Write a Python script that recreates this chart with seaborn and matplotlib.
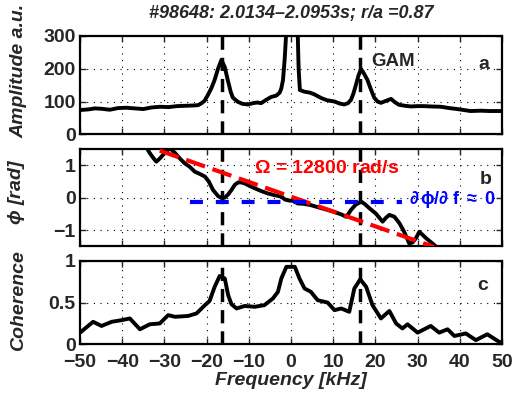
import numpy as np
import matplotlib
matplotlib.use('Agg')
import matplotlib.pyplot as plt
import seaborn as sns

# panel a: amplitude spectrum
freq_amp = [-50, -48, -46.5, -45, -43, -42.5, -41, -39, -37, -35, -33, -31, -29, -27, -25, -23, -22,
            -21.2, -20.5, -19.7, -18.9, -18.1, -17.3, -16.5, -15.7, -15, -14.3, -13.8, -12.6, -11.5,
            -10.2, -9, -8, -7.1, -5.9, -4.7, -3.5, -2.7, -2.3, -1.9, -1.5, -1.1, -0.5, 0.5, 1.5, 1.8,
            2.1, 3.2, 4.5, 5.5, 7.1, 8.5, 10.3, 11.5, 12.6, 13.5, 14.2, 14.8, 15.4, 16, 16.6, 17.3,
            18.1, 18.9, 19.7, 20.5, 21.3, 22.5, 23.7, 24.6, 25.6, 27, 28.4, 30, 31.5, 33, 35.5, 37.5,
            39.4, 41, 42.5, 45, 47, 49.7, 50]
amplitude = [74, 76, 79, 78, 75, 76, 80, 81, 79, 77, 82, 84, 83, 86, 87, 88, 89,
             95, 102, 120, 140, 166, 200, 227, 205, 166, 130, 112, 99, 93,
             91, 95, 97, 95, 105, 114, 118, 127, 140, 166, 230, 320, 800, 900, 350, 200,
             135, 130, 127, 122, 111, 104, 100, 94, 91, 95, 105, 125, 152, 180, 199, 185,
             166, 138, 112, 100, 96, 102, 108, 98, 90, 87, 85, 86, 86, 85, 84, 80,
             77, 74, 71, 72, 71, 71, 70]

# panel b: cross phase
freq_phase = [-34.5, -33.5, -32.5, -31.9, -31, -29.8, -28.7, -27.5, -26.3, -25.2, -24, -22.8, -21.6,
              -20.4, -19.5, -18.5, -17.3, -16.5, -15.7, -14.9, -14.1, -13.3, -12.5, -11.8, -11,
              -9.8, -8.6, -7, -5.5, -4, -2.3, -1.4, -0.4, 0.6, 1.6, 3, 4.7, 6.5, 8.7, 10, 11.1, 12,
              13, 13.6, 14.2, 15.3, 16.6, 17.5, 18.6, 20.1, 21.7, 22.5, 23.3, 24.5, 25.7, 26.8,
              28, 28.8, 29.6, 30.4, 31.2, 32, 33.5, 34.7]
phase = [1.6, 1.38, 1.2, 1.11, 1.22, 1.4, 1.52, 1.38, 1.2, 1.06, 0.95, 0.80, 0.73,
         0.65, 0.5, 0.24, 0.05, -0.01, 0.0, 0.1, 0.24, 0.4, 0.47, 0.47, 0.44,
         0.36, 0.29, 0.2, 0.13, 0.08, 0.03, -0.06, -0.09, -0.1, -0.18, -0.19, -0.23, -0.3, -0.38,
         -0.43, -0.48, -0.52, -0.59, -0.5, -0.38, -0.22, -0.12, -0.2, -0.33, -0.49, -0.74, -0.62,
         -0.53, -0.59, -0.79, -1.05, -1.41, -1.38, -1.25, -1.05, -1.15, -1.25, -1.41, -1.55]

# panel c: coherence
freq_coh = [-50, -48.8, -46.9, -44.9, -42.5, -40.1, -38.2, -35.8, -33.5, -31.1, -29.1, -27.5, -24.4,
            -22.4, -20.4, -19.3, -18.1, -16.9, -15.7, -14.9, -14.1, -12.9, -11, -8.6, -6.3, -4.3,
            -3.1, -2.3, -1.1, 0.9, 2, 3.2, 4.7, 6.3, 8.7, 10.3, 11.9, 13.8, 15, 16.4, 17.8, 19.3,
            21.3, 23.3, 24.9, 26.4, 27.6, 30, 33.1, 35.1, 37.1, 38.7, 41.4, 43.8, 46.5, 49.3, 50]
coherence = [0.14, 0.19, 0.27, 0.22, 0.27, 0.29, 0.31, 0.18, 0.24, 0.25, 0.35, 0.33, 0.34,
             0.37, 0.47, 0.52, 0.69, 0.82, 0.79, 0.59, 0.48, 0.43, 0.46, 0.45, 0.47, 0.55,
             0.63, 0.79, 0.93, 0.93, 0.79, 0.67, 0.63, 0.53, 0.50, 0.41, 0.43, 0.39, 0.67, 0.78,
             0.69, 0.47, 0.31, 0.40, 0.25, 0.19, 0.24, 0.14, 0.22, 0.14, 0.18, 0.10, 0.13, 0.05,
             0.12, 0.03, 0.02]

gam_freqs = [-16.4, 16.3]
omega_f = [-31.1, 33.9]
omega_phi = [1.45, -1.52]
flat_f = [-24, 26.2]
flat_phi = [-0.14, -0.14]

sns.set_style('ticks')
plt.rcParams['font.family'] = ['Liberation Sans', 'DejaVu Sans']
plt.rcParams['font.weight'] = 'bold'
plt.rcParams['mathtext.fontset'] = 'stix'
plt.rcParams['mathtext.default'] = 'regular'

fig = plt.figure(figsize=(5.21, 4.04), dpi=100)
ax_a = fig.add_axes([0.1536, 0.6676, 0.810, 0.2433])
ax_b = fig.add_axes([0.1536, 0.3903, 0.810, 0.2409])
ax_c = fig.add_axes([0.1536, 0.1478, 0.810, 0.2062])


def style_axis(ax):
    ax.set_xlim(-50, 50)
    ax.set_xticks(np.arange(-50, 51, 10))
    ax.grid(True, color='k', linestyle=(0, (1, 5)), linewidth=0.8)
    ax.tick_params(direction='in', top=True, right=True, length=4, width=1,
                   labelsize=14, pad=3)
    for s in ax.spines.values():
        s.set_linewidth(1.6)
        s.set_color('k')
    ax.set_axisbelow(True)
    for f in gam_freqs:
        ax.axvline(f, color='k', lw=2.5, linestyle=(0, (3.8, 2.3)), zorder=3)


lab = dict(fontsize=14, fontweight='bold', fontstyle='italic')

# a
sns.lineplot(x=freq_amp, y=amplitude, ax=ax_a, color='k', lw=2.8, zorder=4)
style_axis(ax_a)
ax_a.set_ylim(0, 300)
ax_a.set_yticks([0, 100, 200, 300])
ax_a.set_xticklabels([])
ax_a.set_ylabel('Amplitude a.u.', **lab)
ax_a.yaxis.set_label_coords(-0.125, 0.64)
ax_a.text(19, 222, 'GAM', fontsize=13.5, fontweight='bold', va='center')
ax_a.text(45.8, 212, 'a', fontsize=14, fontweight='bold', va='center', ha='center')
ax_a.set_title('#98648: 2.0134\u20132.0953s; r/a =0.87', fontsize=13, fontweight='bold',
               fontstyle='italic', pad=13)

# b
sns.lineplot(x=freq_phase, y=phase, ax=ax_b, color='k', lw=2.8, zorder=4, sort=False)
sns.lineplot(x=omega_f, y=omega_phi, ax=ax_b, color='#ff0000', lw=3, zorder=5,
             linestyle=(0, (4.8, 1.9)))
sns.lineplot(x=flat_f, y=flat_phi, ax=ax_b, color='#0000ff', lw=3, zorder=5,
             linestyle=(0, (3.1, 3.1)))
style_axis(ax_b)
ax_b.set_ylim(-1.5, 1.5)
ax_b.set_yticks([-1, 0, 1])
ax_b.set_xticklabels([])
ax_b.set_ylabel(r'$\phi$ [rad]', **lab)
ax_b.yaxis.set_label_coords(-0.125, 0.56)
ax_b.text(-8.8, 0.91, r'$\Omega$ = 12800 rad/s', color='#ff0000', fontsize=14,
          fontweight='bold', va='center')
ax_b.text(28, -0.07, r'$\partial\,\phi/\partial$ f $\approx$ 0', color='#0000ff', fontsize=13,
          fontweight='bold', va='center', clip_on=False)
ax_b.text(46.2, 0.55, 'b', fontsize=14, fontweight='bold', va='center', ha='center')

# c
sns.lineplot(x=freq_coh, y=coherence, ax=ax_c, color='k', lw=2.8, zorder=4)
style_axis(ax_c)
ax_c.set_ylim(0, 1)
ax_c.set_yticks([0, 0.5, 1])
ax_c.set_yticklabels(['0', '0.5', '1'])
ax_c.tick_params(axis='x', pad=7)
ax_c.set_ylabel('Coherence', **lab)
ax_c.yaxis.set_label_coords(-0.125, 0.53)
ax_c.set_xlabel('Frequency [kHz]', labelpad=1, **lab)
ax_c.text(45.5, 0.70, 'c', fontsize=14, fontweight='bold', va='center', ha='center')

fig.savefig('out.png', dpi=100)
